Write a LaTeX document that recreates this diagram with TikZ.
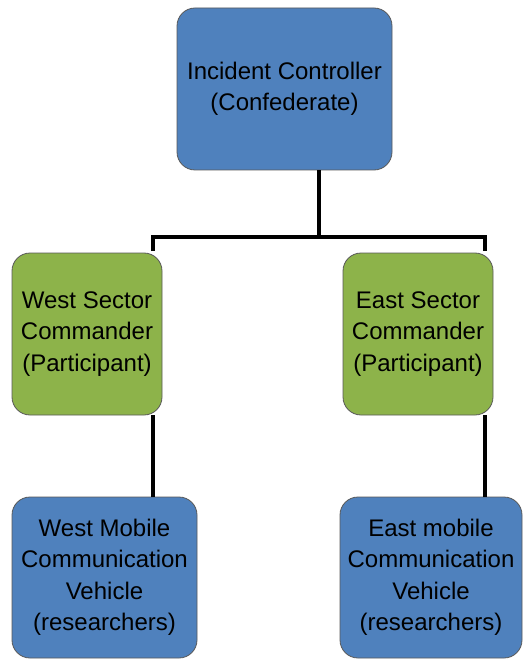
\documentclass[tikz,border=0pt]{standalone}
\usepackage{fontspec}
\setmainfont{Liberation Sans}
\usepackage{tikz}
\usetikzlibrary{calc}

\definecolor{boxblue}{RGB}{79,129,189}
\definecolor{boxgreen}{RGB}{141,179,74}

\begin{document}
\begin{tikzpicture}[x=1pt, y=-1pt,
    box/.style={draw=black!65, line width=0.8pt, rounded corners=18pt,
      align=center, inner sep=0pt, text=black,
      font=\fontsize{24}{31.5}\selectfont},
    bluebox/.style={box, fill=boxblue},
    greenbox/.style={box, fill=boxgreen},
    link/.style={line width=4pt}]
      \useasboundingbox (0,0) rectangle (527,660);

      % 1. 上方的控制者
      \node[bluebox, minimum width=215pt, minimum height=162pt] (IC) at (284.5,89)
        {Incident Controller\\(Confederate)};

      % 2. 中間兩個指揮官
      \node[greenbox, minimum width=150pt, minimum height=162pt] (WSC) at (87,334)
        {West Sector\\Commander\\(Participant)};
      \node[greenbox, minimum width=150pt, minimum height=162pt] (ESC) at (418,334)
        {East Sector\\Commander\\(Participant)};

      % 3. 下方兩台車
      \node[bluebox, minimum width=185pt, minimum height=161pt] (WMCV) at (104.5,577.5)
        {West Mobile\\Communication\\Vehicle\\(researchers)};
      \node[bluebox, minimum width=182pt, minimum height=161pt] (EMCV) at (431,577.5)
        {East mobile\\Communication\\Vehicle\\(researchers)};

      % 4. 連接線
      \coordinate (bus_W) at (153,237);
      \coordinate (bus_E) at (485,237);
      \coordinate (bus_M) at (319,237);
      \draw[link] (IC.south -| bus_M) -- (bus_M);
      \draw[link] ($(bus_W)+(0,14)$) -- (bus_W) -- (bus_E) -- ($(bus_E)+(0,14)$);
      %\draw[link] (bus_W) -- (WSC.north -| bus_W);
      \draw[link] (WSC.south -| bus_W) -- (WMCV.north -| bus_W);
      \draw[link] (ESC.south -| bus_E) -- (EMCV.north -| bus_E);
\end{tikzpicture}
\end{document}
